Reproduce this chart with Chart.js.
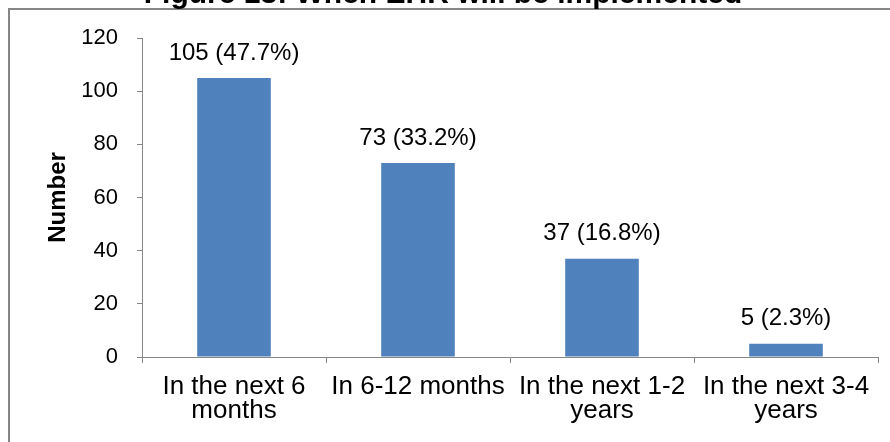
<!DOCTYPE html>
<html><head><meta charset="utf-8">
<script src="https://cdn.jsdelivr.net/npm/chart.js@4"></script>
<style>html,body{margin:0;padding:0;background:#fff}#w{width:890px;height:442px;position:relative}</style>
</head><body><div id="w"><canvas id="c"></canvas></div>
<script>
const categories = [["In the next 6","months"],["In 6-12 months"],["In the next 1-2","years"],["In the next 3-4","years"]];
const counts = [105, 73, 37, 5];
const percents = ["47.7%", "33.2%", "16.8%", "2.3%"];
const yMin = 0, yMax = 120, yStep = 20;
const titleText = "Figure 13: When EHR will be implemented";
const yAxisTitle = "Number";

const FONT = "'Liberation Sans', Arial, sans-serif";
const AXIS = '#868686';

const decor = {
  id: 'decor',
  afterDraw(chart) {
    const ctx = chart.ctx;
    ctx.save();
    ctx.strokeStyle = AXIS; ctx.lineWidth = 2;
    ctx.beginPath();
    ctx.moveTo(9, 442); ctx.lineTo(9, 9); ctx.lineTo(890, 9);
    ctx.stroke();
    ctx.fillStyle = '#000';
    ctx.font = "bold 30px " + FONT;
    ctx.textAlign = 'center'; ctx.textBaseline = 'alphabetic';
    ctx.fillText(titleText, 443, 3);
    ctx.restore();
  },
  afterDatasetsDraw(chart) {
    const ctx = chart.ctx;
    const meta = chart.getDatasetMeta(0);
    ctx.save();
    ctx.fillStyle = '#000';
    ctx.font = "24px " + FONT;
    ctx.textAlign = 'center'; ctx.textBaseline = 'middle';
    meta.data.forEach((bar, i) => {
      ctx.fillText(counts[i] + " (" + percents[i] + ")", bar.x, bar.y - 25);
    });
    ctx.restore();
  }
};

new Chart(document.getElementById('c'), {
  type: 'bar',
  data: {
    labels: categories,
    datasets: [{ data: counts, backgroundColor: '#4F81BD', borderWidth: 0,
      barPercentage: 0.4, categoryPercentage: 1 }]
  },
  options: {
    responsive: true, maintainAspectRatio: false, animation: false,
    layout: { padding: { left: 44, top: 38, right: 12, bottom: 0 } },
    plugins: { legend: { display: false }, tooltip: { enabled: false } },
    scales: {
      x: {
        grid: { display: true, drawOnChartArea: false, drawTicks: true, tickLength: 6, color: AXIS, lineWidth: 1 },
        border: { display: true, color: AXIS, width: 1 },
        ticks: { color: '#000', font: { family: FONT, size: 26, lineHeight: 0.93 }, padding: 12, maxRotation: 0, autoSkip: false },
        afterFit: s => { s.height = 85; }
      },
      y: {
        min: yMin, max: yMax,
        grid: { display: true, drawOnChartArea: false, drawTicks: true, tickLength: 5, color: AXIS, lineWidth: 1 },
        border: { display: true, color: AXIS, width: 1 },
        ticks: { stepSize: yStep, color: '#000', font: { family: FONT, size: 22 }, padding: 19 },
        title: { display: true, text: yAxisTitle, color: '#000', font: { family: FONT, size: 24, weight: 'bold', lineHeight: 1.2 }, padding: { top: 0, bottom: 0 } },
        afterFit: s => { s.width = 98; }
      }
    }
  },
  plugins: [decor]
});
</script>
</body></html>
